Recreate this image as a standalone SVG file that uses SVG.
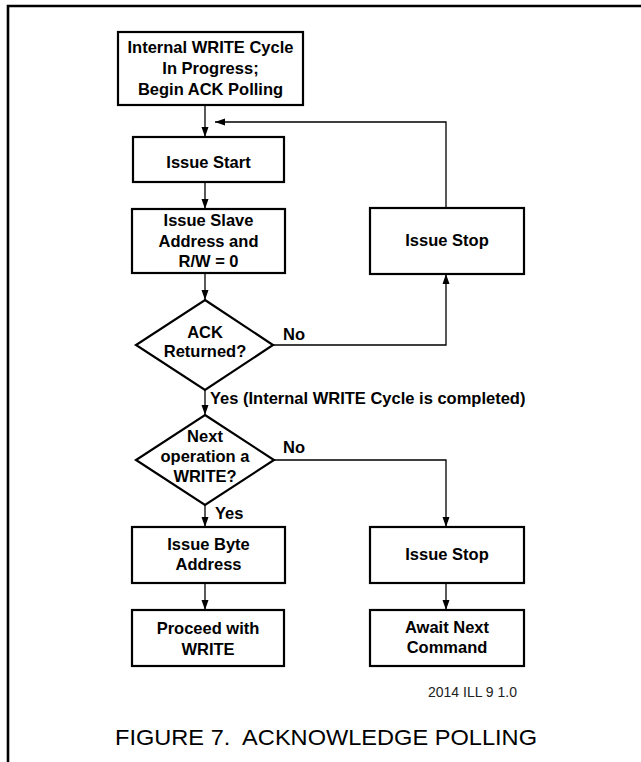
<svg xmlns="http://www.w3.org/2000/svg" width="641" height="762" viewBox="0 0 641 762">
<style>
.box{fill:#fff;stroke:#000;stroke-width:2.2}
.t{font-family:"Liberation Sans",Arial,sans-serif;font-weight:bold;font-size:16.5px;fill:#000;text-anchor:middle}
.lbl{font-family:"Liberation Sans",Arial,sans-serif;font-weight:bold;font-size:16.5px;fill:#000}
.c{fill:none;stroke:#000;stroke-width:1.3}
</style>
<defs>
<marker id="ah" viewBox="0 0 10 10" refX="10" refY="5" markerWidth="10" markerHeight="10" markerUnits="userSpaceOnUse" orient="auto">
<path d="M0,1.5 L10,5 L0,8.5 Z" fill="#000"/>
</marker>
</defs>
<rect width="641" height="762" fill="#fff"/>
<path d="M8,762 V6 H641" fill="none" stroke="#000" stroke-width="2.6"/>
<g id="connectors">
<path class="c" d="M205,105 V137" marker-end="url(#ah)"/>
<path class="c" d="M446,208 V122 H215" marker-end="url(#ah)"/>
<path class="c" d="M205,182 V209" marker-end="url(#ah)"/>
<path class="c" d="M205,273 V300" marker-end="url(#ah)"/>
<path class="c" d="M273,345 H446 V274" marker-end="url(#ah)"/>
<path class="c" d="M205,390 V415" marker-end="url(#ah)"/>
<path class="c" d="M274,460 H446 V527" marker-end="url(#ah)"/>
<path class="c" d="M205,505 V527" marker-end="url(#ah)"/>
<path class="c" d="M205,583 V610" marker-end="url(#ah)"/>
<path class="c" d="M446,583 V610" marker-end="url(#ah)"/>
<text class="lbl" x="283" y="340">No</text>
<text class="lbl" x="210" y="404">Yes (Internal WRITE Cycle is completed)</text>
<text class="lbl" x="283" y="453">No</text>
<text class="lbl" x="215" y="519">Yes</text>
</g>
<g id="begin">
<rect class="box" x="118" y="32" width="185" height="73"/>
<text class="t" x="210.5" y="53">Internal WRITE Cycle</text>
<text class="t" x="210.5" y="74">In Progress;</text>
<text class="t" x="210.5" y="95">Begin ACK Polling</text>
</g>
<g id="issue-start">
<rect class="box" x="133" y="137" width="151" height="45"/>
<text class="t" x="208.5" y="168">Issue Start</text>
</g>
<g id="issue-slave">
<rect class="box" x="132" y="209" width="153" height="64"/>
<text class="t" x="208.5" y="226">Issue Slave</text>
<text class="t" x="208.5" y="247">Address and</text>
<text class="t" x="208.5" y="267">R/W = 0</text>
</g>
<g id="ack-returned">
<path class="box" d="M205,300 L273,345 L205,390 L136,345 Z"/>
<text class="t" x="205" y="338">ACK</text>
<text class="t" x="205" y="357">Returned?</text>
</g>
<g id="issue-stop-1">
<rect class="box" x="370" y="208" width="154" height="66"/>
<text class="t" x="447" y="246">Issue Stop</text>
</g>
<g id="next-write">
<path class="box" d="M205,415 L274,460 L205,505 L136,460 Z"/>
<text class="t" x="205" y="442">Next</text>
<text class="t" x="205" y="462">operation a</text>
<text class="t" x="205" y="482">WRITE?</text>
</g>
<g id="issue-byte">
<rect class="box" x="132" y="527" width="153" height="56"/>
<text class="t" x="208.5" y="550">Issue Byte</text>
<text class="t" x="208.5" y="570">Address</text>
</g>
<g id="issue-stop-2">
<rect class="box" x="370" y="527" width="154" height="56"/>
<text class="t" x="447" y="560">Issue Stop</text>
</g>
<g id="proceed">
<rect class="box" x="132" y="610" width="152" height="56"/>
<text class="t" x="208" y="634">Proceed with</text>
<text class="t" x="208" y="655">WRITE</text>
</g>
<g id="await">
<rect class="box" x="370" y="610" width="154" height="56"/>
<text class="t" x="447" y="633">Await Next</text>
<text class="t" x="447" y="653">Command</text>
</g>
<text x="428" y="697" font-family="'Liberation Sans',Arial,sans-serif" font-size="14" fill="#222">2014 ILL 9 1.0</text>
<text x="115" y="745" xml:space="preserve" font-family="'Liberation Sans',Arial,sans-serif" font-size="22.5" fill="#000" textLength="422" lengthAdjust="spacingAndGlyphs">FIGURE 7.  ACKNOWLEDGE POLLING</text>
</svg>
